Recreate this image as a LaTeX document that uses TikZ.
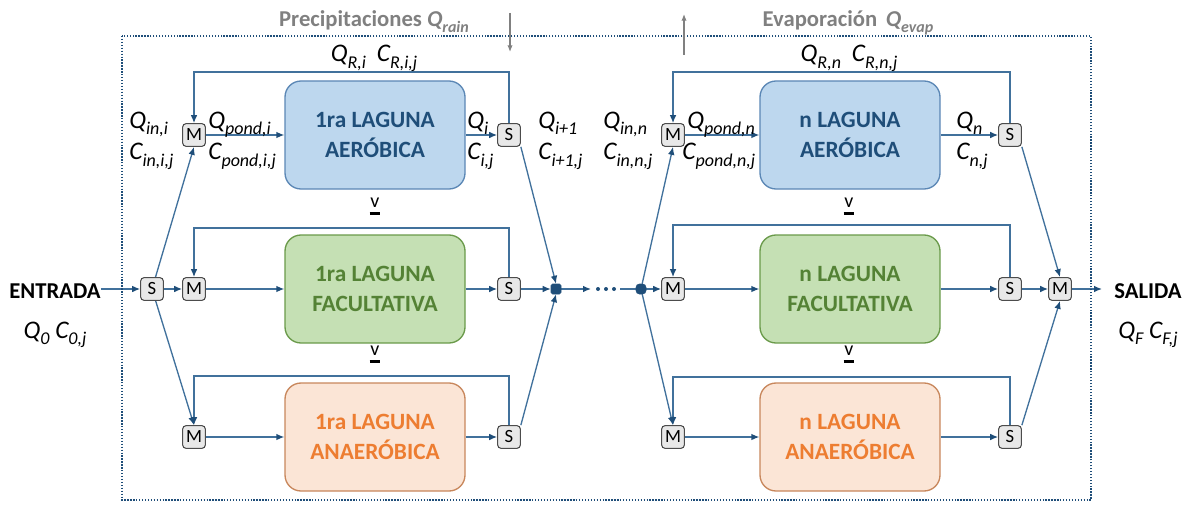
\documentclass[tikz,border=0pt]{standalone}
\usepackage{fontspec}
\setmainfont{Carlito}
\usetikzlibrary{arrows.meta,backgrounds}
\definecolor{ln}{HTML}{41719C}
\definecolor{tip}{HTML}{1F4E79}
\definecolor{aerF}{HTML}{BDD7EE}
\definecolor{aerD}{HTML}{5B87B5}
\definecolor{aerT}{HTML}{1F4E79}
\definecolor{facF}{HTML}{C5E0B4}
\definecolor{facD}{HTML}{6A9A4A}
\definecolor{facT}{HTML}{548235}
\definecolor{anaF}{HTML}{FBE5D6}
\definecolor{anaD}{HTML}{C8875C}
\definecolor{anaT}{HTML}{ED7D31}
\definecolor{titg}{HTML}{808080}
\newcommand\sbs[1]{\raisebox{-0.25em}{\fontsize{13.5}{14}\selectfont #1}}
\newcommand\tsbs[1]{\raisebox{-0.25em}{\fontsize{12}{12}\selectfont #1}}
\newcommand\veeu{\shortstack{v\\[1pt]\rule{8pt}{1.6pt}}}
\tikzset{
  con/.style={draw=ln, line width=1pt},
  arr/.style={con, -{Latex[length=6pt,width=5pt,color=tip]}},
  mixbox/.style={draw=black!70, fill=gray!18, rounded corners=2.5pt, minimum size=17pt,
    inner sep=0pt, line width=0.8pt, font=\fontsize{14}{14}\selectfont},
  pond/.style={rounded corners=12pt, minimum width=135pt, minimum height=81pt,
    line width=1pt, align=center, font=\bfseries\fontsize{17.5}{22.5}\selectfont},
  aer/.style={pond, fill=aerF, draw=aerD, text=aerT},
  fac/.style={pond, fill=facF, draw=facD, text=facT},
  ana/.style={pond, fill=anaF, draw=anaD, text=anaT},
  jn/.style={fill=tip, draw=tip, minimum size=7.5pt, inner sep=0pt, rounded corners=1.2pt},
  lab/.style={font=\itshape\fontsize{19}{21}\selectfont, inner sep=0pt, anchor=base west},
  labc/.style={lab, anchor=base},
  bigl/.style={font=\bfseries\fontsize{17}{20}\selectfont, inner sep=0pt, anchor=base},
  titl/.style={font=\bfseries\fontsize{17}{19}\selectfont, text=titg, inner sep=0pt, anchor=base},
  garr/.style={draw=titg, line width=0.9pt, -{Latex[length=5pt,width=4pt]}},
  dotbox/.style={draw=tip, line width=1.3pt, dash pattern=on 1pt off 1.2pt},
  sym/.style={font=\fontsize{15}{15}\selectfont, inner sep=0pt},
  dot/.style={circle, fill=tip, inner sep=0pt, minimum size=3pt},
}
\begin{document}
\begin{tikzpicture}[x=0.75pt,y=-0.75pt]
\useasboundingbox (0,0) rectangle (1201,506);
\draw[dotbox] (122,36) rectangle (1091,500);

% titles
\node[titl] (train) at (374,27) {Precipitaciones \textit{Q\tsbs{rain}}};
\node[titl] (tevap) at (848,27) {Evaporación \hspace{0.15em}\textit{Q\tsbs{evap}}};
\coordinate (rainA) at (510,13);
\coordinate (rainB) at (510,52);
\coordinate (evA) at (684,55);
\coordinate (evB) at (684,14);
\draw[garr] (rainA) -- (rainB);
\draw[garr] (evA) -- (evB);

% ponds
\node[aer] (A1) at (375,135) {1ra LAGUNA\\AERÓBICA};
\node[fac] (F1) at (375,289) {1ra LAGUNA\\FACULTATIVA};
\node[ana] (N1) at (375,437) {1ra LAGUNA\\ANAERÓBICA};
\node[aer] (A2) at (850,135) {n LAGUNA\\AERÓBICA};
\node[fac] (F2) at (850,289) {n LAGUNA\\FACULTATIVA};
\node[ana] (N2) at (850,437) {n LAGUNA\\ANAERÓBICA};

% mixers and splitters
\node[mixbox] (M11) at (194,135) {M};
\node[mixbox] (M12) at (194,289) {M};
\node[mixbox] (M13) at (194,437) {M};
\node[mixbox] (S11) at (509,135) {S};
\node[mixbox] (S12) at (509,289) {S};
\node[mixbox] (S13) at (509,437) {S};
\node[mixbox] (M21) at (673,135) {M};
\node[mixbox] (M22) at (673,289) {M};
\node[mixbox] (M23) at (673,437) {M};
\node[mixbox] (S21) at (1010,135) {S};
\node[mixbox] (S22) at (1010,289) {S};
\node[mixbox] (S23) at (1010,437) {S};
\node[mixbox] (Sin) at (152,289) {S};
\node[mixbox] (Mout) at (1060,289) {M};
\node[jn] (J1) at (556,289) {};
\node[jn, rounded corners=2.5pt] (J2) at (641,289) {};

% entrance / exit
\node[bigl] (ent) at (55,298) {ENTRADA};
\node[bigl] (sal) at (1148,298) {SALIDA};
\node[labc] (q0) at (55,338) {Q\sbs{0} C\sbs{0,j}};
\node[labc] (qf) at (1148,338) {Q\sbs{F} C\sbs{F,j}};
\coordinate (outE) at (1102,289);

% connectors
\begin{scope}[on background layer]
\draw[arr] (ent.east |- Sin) -- (Sin.west);
\draw[arr] (Sin.east) -- (M12.west);
\draw[arr] (Sin) -- (M11.south);
\draw[arr] (Sin) -- (M13.north);
\foreach \r/\b in {1/A,2/F,3/N}{
  \draw[arr] (M1\r.east) -- (\b1.west);
  \draw[arr] (\b1.east) -- (S1\r.west);
  \draw[arr] (M2\r.east) -- (\b2.west);
  \draw[arr] (\b2.east) -- (S2\r.west);
}
\draw[arr] (S11.north) -- (S11.north |- 0,72) -| (M11.north);
\draw[arr] (S12.north) -- (S12.north |- 0,228) -| (M12.north);
\draw[arr] (S13.north) -- (S13.north |- 0,376) -| (M13.north);
\draw[arr] (S21.north) -- (S21.north |- 0,72) -| (M21.north);
\draw[arr] (S22.north) -- (S22.north |- 0,225) -| (M22.north);
\draw[arr] (S23.north) -- (S23.north |- 0,377) -| (M23.north);
\draw[arr] (S11.south east) -- (J1.north);
\draw[arr] (S12.east) -- (J1.west);
\draw[arr] (S13.north east) -- (J1.south);
\coordinate (dA) at (591,289);
\coordinate (dB) at (620,289);
\draw[arr] (J1.east) -- (dA);
\draw[con] (dB) -- (J2.west);
\draw[arr] (J2.east) -- (M22.west);
\draw[arr] (J2) -- (M21.south);
\draw[arr] (J2) -- (M23.north);
\draw[arr] (S21.south east) -- (Mout.north);
\draw[arr] (S22.east) -- (Mout.west);
\draw[arr] (S23.north east) -- (Mout.south);
\draw[arr] (Mout.east) -- (outE);
\end{scope}
\node[dot] (d1) at (598,289) {};
\node[dot] (d2) at (606,289) {};
\node[dot] (d3) at (614,289) {};

% symbols between ponds
\node[sym] (v1) at (375,206) {\veeu};
\node[sym] (v2) at (375,354) {\veeu};
\node[sym] (v3) at (849,206) {\veeu};
\node[sym] (v4) at (849,354) {\veeu};

% labels column 1
\node[labc] (qr1) at (374,62) {Q\sbs{R,i}\hspace{0.2em} C\sbs{R,i,j}};
\node[lab] (qin1) at (129,128) {Q\sbs{in,i}};
\node[lab] (cin1) at (129,160) {C\sbs{in,i,j}};
\node[lab] (qp1) at (208,128) {Q\sbs{pond,i}};
\node[lab] (cp1) at (208,160) {C\sbs{pond,i,j}};
\node[lab] (qi1) at (467,128) {Q\sbs{i}};
\node[lab] (ci1) at (467,160) {C\sbs{i,j}};
\node[lab] (qn1) at (538,128) {Q\sbs{i+1}};
\node[lab] (cn1) at (538,160) {C\sbs{i+1,j}};
% labels column n
\node[labc] (qr2) at (849,62) {Q\sbs{R,n}\hspace{0.2em} C\sbs{R,n,j}};
\node[lab] (qin2) at (603,128) {Q\sbs{in,n}};
\node[lab] (cin2) at (603,160) {C\sbs{in,n,j}};
\node[lab] (qp2) at (687,128) {Q\sbs{pond,n}};
\node[lab] (cp2) at (682,160) {C\sbs{pond,n,j}};
\node[lab] (qi2) at (956,128) {Q\sbs{n}};
\node[lab] (ci2) at (956,160) {C\sbs{n,j}};
\end{tikzpicture}
\end{document}
